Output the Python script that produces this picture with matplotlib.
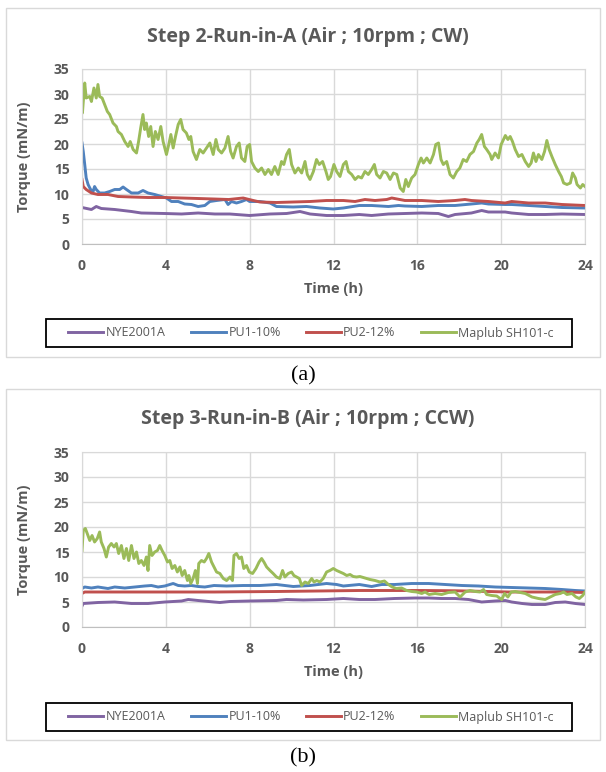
import numpy as np
import matplotlib
matplotlib.use("Agg")
import matplotlib.pyplot as plt
from matplotlib.patches import Rectangle
from matplotlib.lines import Line2D

plt.rcParams['font.family'] = ['Open Sans', 'DejaVu Sans']

# series names and colours
names = ['NYE2001A', 'PU1-10%', 'PU2-12%', 'Maplub SH101-c']
colors = ['#8064A2', '#4F81BD', '#C0504D', '#9BBB59']
titles = ['Step 2-Run-in-A (Air ; 10rpm ; CW)', 'Step 3-Run-in-B (Air ; 10rpm ; CCW)']
captions = ['(a)', '(b)']
xticks = [0, 4, 8, 12, 16, 20, 24]
yticks = [0, 5, 10, 15, 20, 25, 30, 35]

# (time h, torque mN/m) -- panel (a)
a_nye = [(0, 7.3), (0.45, 6.9), (0.68, 7.5), (0.92, 7.1), (1.56, 6.9), (2.36, 6.5), (2.83, 6.2),
         (3.95, 6.1), (4.75, 6.0), (5.54, 6.2), (6.34, 6.0), (7.05, 6.0), (8.0, 5.7), (8.97, 6.0),
         (9.76, 6.1), (10.4, 6.5), (10.88, 6.0), (11.67, 5.7), (12.47, 5.7), (13.23, 5.9),
         (13.82, 5.7), (14.62, 6.0), (15.41, 6.1), (16.21, 6.2), (17.0, 6.1), (17.48, 5.5),
         (17.8, 5.9), (18.58, 6.2), (19.07, 6.7), (19.39, 6.4), (20.19, 6.4), (20.5, 6.2),
         (21.31, 5.9), (22.1, 5.9), (22.9, 6.0), (24.0, 5.9)]
a_pu1 = [(0, 20.2), (0.06, 18.5), (0.13, 15.9), (0.2, 13.2), (0.29, 11.9), (0.41, 10.9), (0.53, 10.5),
         (0.6, 11.5), (0.68, 10.9), (0.84, 10.2), (1.08, 10.2), (1.32, 10.5), (1.56, 10.9), (1.8, 10.9),
         (1.96, 11.4), (2.12, 10.9), (2.36, 10.2), (2.68, 10.2), (2.91, 10.7), (3.15, 10.2), (3.47, 9.9),
         (3.79, 9.5), (4.03, 9.2), (4.27, 8.5), (4.59, 8.5), (4.9, 8.0), (5.22, 7.9), (5.54, 7.5),
         (5.86, 7.7), (6.1, 8.5), (6.42, 8.7), (6.82, 8.9), (6.97, 7.9), (7.13, 8.5), (7.37, 8.2),
         (7.61, 8.5), (7.85, 8.9), (8.0, 8.5), (8.49, 8.5), (8.97, 8.2), (9.28, 7.5), (10.08, 7.4),
         (10.71, 7.5), (11.35, 7.2), (11.99, 7.0), (12.47, 7.2), (13.23, 7.7), (13.82, 7.7),
         (14.62, 7.5), (15.1, 7.7), (15.41, 7.6), (16.21, 7.5), (17.0, 7.7), (17.8, 7.7), (18.58, 8.0),
         (19.07, 8.2), (19.39, 8.0), (20.19, 7.9), (20.5, 7.9), (21.31, 7.7), (22.1, 7.5), (22.9, 7.3),
         (24.0, 7.2)]
a_pu2 = [(0, 12.9), (0.06, 11.5), (0.2, 10.9), (0.45, 10.2), (0.76, 9.9), (1.24, 9.9), (1.72, 9.5),
         (2.36, 9.4), (3.15, 9.3), (3.95, 9.3), (4.75, 9.2), (5.54, 9.1), (6.3, 9.0), (7.0, 8.9),
         (7.69, 9.2), (8.17, 8.7), (8.49, 8.4), (9.28, 8.3), (10.08, 8.4), (10.88, 8.5), (11.67, 8.7),
         (12.47, 8.7), (13.03, 8.5), (13.5, 8.9), (13.98, 8.7), (14.54, 8.9), (14.78, 9.2),
         (15.41, 8.7), (16.21, 8.7), (17.0, 8.5), (17.8, 8.7), (18.27, 8.9), (18.58, 8.7),
         (19.39, 8.5), (20.19, 8.2), (20.5, 8.5), (21.31, 8.2), (22.1, 8.2), (22.9, 7.9), (24.0, 7.7)]
a_sh101 = [(0, 29.5), (0.02, 26.2), (0.13, 32.2), (0.2, 29.2), (0.37, 29.5), (0.45, 28.5), (0.57, 31.2),
           (0.68, 29.2), (0.76, 31.9), (0.84, 29.5), (0.96, 29.2), (1.08, 27.9), (1.21, 26.5),
           (1.32, 25.9), (1.48, 24.2), (1.64, 23.5), (1.72, 22.5), (1.88, 21.9), (2.04, 20.5),
           (2.2, 19.5), (2.3, 20.5), (2.44, 18.9), (2.6, 18.2), (2.7, 20.5), (2.8, 23.2), (2.91, 25.9),
           (2.99, 22.9), (3.07, 24.2), (3.18, 21.5), (3.28, 23.5), (3.39, 19.5), (3.5, 22.5),
           (3.63, 20.9), (3.76, 23.5), (3.87, 20.5), (4.03, 17.9), (4.14, 19.9), (4.24, 21.9),
           (4.35, 19.2), (4.46, 21.5), (4.59, 23.9), (4.71, 24.9), (4.82, 22.9), (4.98, 22.2),
           (5.1, 20.9), (5.19, 21.5), (5.3, 18.5), (5.46, 16.9), (5.62, 18.9), (5.78, 18.2),
           (5.94, 19.2), (6.1, 20.2), (6.26, 17.9), (6.39, 20.9), (6.5, 18.9), (6.66, 18.2),
           (6.82, 19.2), (6.97, 21.5), (7.09, 18.5), (7.21, 17.2), (7.37, 19.5), (7.5, 20.2),
           (7.61, 17.2), (7.77, 16.5), (7.88, 19.5), (8.0, 19.9), (8.09, 16.5), (8.25, 15.2),
           (8.41, 14.5), (8.57, 15.2), (8.73, 13.9), (8.89, 14.9), (9.04, 13.9), (9.2, 15.5),
           (9.36, 13.9), (9.52, 16.5), (9.63, 15.9), (9.76, 17.9), (9.89, 18.9), (10.0, 15.9),
           (10.16, 14.2), (10.32, 15.2), (10.48, 14.2), (10.64, 16.5), (10.75, 13.9), (10.88, 12.9),
           (11.04, 14.5), (11.19, 16.9), (11.32, 15.9), (11.48, 16.5), (11.64, 14.5), (11.75, 12.9),
           (11.86, 13.5), (12.02, 15.9), (12.15, 14.5), (12.31, 13.5), (12.47, 15.9), (12.6, 16.5),
           (12.71, 14.5), (12.87, 13.9), (13.03, 12.9), (13.18, 13.5), (13.34, 13.2), (13.5, 14.5),
           (13.66, 13.9), (13.82, 14.9), (13.95, 15.9), (14.06, 13.9), (14.22, 13.2), (14.38, 14.5),
           (14.54, 14.2), (14.7, 12.9), (14.86, 14.2), (15.02, 13.9), (15.18, 11.2), (15.33, 10.5),
           (15.45, 12.9), (15.57, 11.5), (15.73, 13.2), (15.89, 13.9), (16.05, 15.9), (16.18, 17.2),
           (16.29, 16.2), (16.45, 17.2), (16.61, 16.2), (16.77, 17.9), (16.88, 19.9), (17.01, 20.2),
           (17.13, 16.9), (17.24, 15.9), (17.4, 16.5), (17.56, 13.9), (17.72, 13.2), (17.88, 14.5),
           (18.03, 15.2), (18.19, 16.9), (18.35, 16.5), (18.51, 17.9), (18.68, 18.5), (18.84, 20.2),
           (18.95, 20.9), (19.07, 21.9), (19.2, 19.5), (19.31, 18.9), (19.47, 17.9), (19.55, 16.9),
           (19.71, 18.2), (19.87, 17.2), (20.0, 19.9), (20.11, 20.9), (20.2, 21.7), (20.32, 20.9),
           (20.43, 21.5), (20.54, 20.5), (20.67, 18.9), (20.83, 17.5), (20.99, 17.9), (21.15, 16.5),
           (21.31, 15.5), (21.43, 16.2), (21.54, 18.2), (21.66, 16.5), (21.78, 17.9), (21.94, 16.9),
           (22.07, 18.5), (22.18, 20.7), (22.29, 18.9), (22.42, 17.5), (22.58, 15.9), (22.74, 14.5),
           (22.87, 13.5), (22.98, 12.2), (23.14, 11.9), (23.3, 12.2), (23.41, 14.2), (23.54, 13.2),
           (23.62, 11.9), (23.78, 11.2), (23.89, 11.9), (24.0, 11.5)]

# panel (b)
b_nye = [(0, 4.2), (0.06, 4.7), (0.76, 4.9), (1.56, 5.0), (2.36, 4.7), (3.15, 4.7), (3.95, 5.0),
         (4.75, 5.2), (5.07, 5.5), (5.54, 5.3), (6.3, 5.0), (6.58, 4.9), (7.05, 5.1), (8.0, 5.2),
         (9.28, 5.3), (9.76, 5.5), (10.56, 5.4), (11.67, 5.5), (12.47, 5.7), (13.23, 5.5), (13.98, 5.5),
         (14.91, 5.7), (15.89, 5.8), (16.54, 5.8), (17.16, 5.7), (17.8, 5.7), (18.44, 5.5), (19.07, 5.0),
         (19.71, 5.2), (20.2, 5.3), (20.5, 5.0), (21.0, 4.7), (21.47, 4.5), (22.1, 4.5), (22.58, 4.9),
         (23.06, 5.0), (23.54, 4.7), (24.0, 4.5)]
b_pu1 = [(0, 7.7), (0.13, 8.0), (0.45, 7.8), (0.76, 8.0), (1.24, 7.7), (1.56, 8.0), (2.04, 7.8),
         (2.52, 8.0), (2.99, 8.2), (3.31, 8.3), (3.63, 8.0), (3.95, 8.2), (4.35, 8.7), (4.59, 8.3),
         (4.9, 8.2), (5.22, 8.3), (5.54, 8.1), (5.86, 8.0), (6.3, 8.3), (6.9, 8.2), (7.69, 8.3),
         (8.49, 8.3), (9.28, 8.5), (10.08, 8.1), (10.88, 8.3), (11.67, 8.7), (12.15, 8.5), (12.47, 8.2),
         (13.23, 8.5), (13.82, 8.1), (14.3, 8.5), (14.91, 8.5), (15.73, 8.7), (16.54, 8.7), (17.33, 8.5),
         (18.13, 8.3), (18.92, 8.2), (19.71, 8.0), (20.5, 7.9), (21.31, 7.8), (22.1, 7.7), (22.9, 7.5),
         (23.54, 7.3), (24.0, 7.2)]
b_pu2 = [(0, 6.7), (0.13, 7.0), (6.3, 7.0), (9.28, 7.1), (13.23, 7.3), (16.21, 7.3), (17.8, 7.25),
         (19.39, 7.1), (20.35, 7.0), (22.9, 7.0), (24.0, 6.9)]
b_sh101 = [(0, 15.3), (0.06, 19.3), (0.16, 19.7), (0.25, 18.7), (0.37, 17.3), (0.48, 18.3), (0.6, 17.0),
           (0.73, 17.7), (0.84, 19.0), (0.92, 17.0), (1.05, 15.7), (1.16, 14.0), (1.27, 16.0),
           (1.4, 16.7), (1.53, 16.0), (1.64, 16.7), (1.75, 14.7), (1.88, 16.3), (2.0, 13.7),
           (2.12, 15.7), (2.23, 13.3), (2.36, 16.3), (2.48, 13.7), (2.6, 15.0), (2.71, 12.7),
           (2.83, 13.3), (2.96, 12.3), (3.07, 14.0), (3.15, 11.3), (3.23, 16.3), (3.34, 14.3),
           (3.47, 15.0), (3.6, 15.3), (3.71, 16.3), (3.82, 15.3), (3.95, 14.3), (4.08, 13.0),
           (4.19, 13.3), (4.3, 11.7), (4.43, 12.3), (4.55, 11.0), (4.67, 12.0), (4.78, 10.3),
           (4.9, 11.3), (5.03, 9.3), (5.1, 10.3), (5.19, 8.7), (5.3, 9.7), (5.41, 11.3), (5.51, 8.7),
           (5.57, 12.7), (5.7, 13.3), (5.83, 13.0), (5.94, 13.7), (6.05, 14.7), (6.18, 13.0),
           (6.3, 12.0), (6.42, 11.0), (6.58, 10.7), (6.74, 9.7), (6.9, 9.3), (7.06, 10.0), (7.18, 9.3),
           (7.25, 14.3), (7.37, 14.7), (7.5, 13.7), (7.61, 14.0), (7.72, 11.7), (7.85, 12.3),
           (7.98, 11.0), (8.14, 10.7), (8.3, 11.7), (8.45, 13.0), (8.57, 13.7), (8.68, 13.0),
           (8.81, 12.0), (8.97, 11.3), (9.12, 10.7), (9.28, 10.0), (9.44, 9.7), (9.57, 11.3),
           (9.68, 10.0), (9.84, 10.7), (10.0, 11.0), (10.11, 10.3), (10.24, 10.0), (10.37, 9.7),
           (10.48, 8.3), (10.64, 9.0), (10.8, 8.7), (10.96, 9.7), (11.07, 9.0), (11.2, 9.3),
           (11.35, 9.0), (11.51, 9.7), (11.67, 11.0), (11.83, 11.3), (11.99, 11.7), (12.15, 11.3),
           (12.31, 11.0), (12.47, 10.7), (12.63, 10.3), (12.79, 10.5), (12.94, 10.1), (13.1, 10.0),
           (13.26, 10.1), (13.5, 9.8), (13.74, 9.5), (13.98, 9.3), (14.22, 9.0), (14.43, 9.2),
           (14.62, 8.5), (14.8, 8.0), (15.0, 7.7), (15.25, 7.8), (15.49, 7.3), (15.73, 7.1),
           (15.97, 7.0), (16.21, 6.7), (16.37, 7.0), (16.56, 6.5), (16.85, 6.7), (17.16, 6.5),
           (17.48, 6.9), (17.8, 7.0), (18.04, 6.0), (18.28, 7.0), (18.52, 7.3), (18.76, 7.1),
           (18.99, 7.0), (19.16, 7.5), (19.31, 6.5), (19.55, 6.3), (19.79, 6.2), (19.95, 5.7),
           (20.03, 5.5), (20.16, 6.7), (20.32, 6.0), (20.48, 7.0), (20.67, 7.1), (20.91, 6.9),
           (21.15, 6.7), (21.47, 6.0), (21.78, 5.7), (22.1, 5.5), (22.34, 6.0), (22.58, 6.5),
           (22.82, 6.7), (22.98, 7.0), (23.14, 6.5), (23.38, 6.7), (23.57, 6.0), (23.73, 5.7),
           (23.89, 6.3), (24.0, 7.0)]

panels = [[a_nye, a_pu1, a_pu2, a_sh101], [b_nye, b_pu1, b_pu2, b_sh101]]

W, H = 606, 772
fig = plt.figure(figsize=(W / 100, H / 100), dpi=100)


def fx(px):
    return px / W


def fy(py):
    return 1 - py / H


# pixel layout of each panel: outer box top/bottom, title y, plot top, legend top, caption y
layout = [dict(box=(8, 357), title=37, plot=69, leg=319, cap=376),
          dict(box=(389, 740), title=419, plot=452, leg=703, cap=758)]

grey = '#595959'
for k, (lay, series) in enumerate(zip(layout, panels)):
    top, bot = lay['box']
    fig.patches.append(Rectangle((fx(6), fy(bot)), fx(594), (bot - top) / H, fill=False,
                                 edgecolor='#D9D9D9', lw=1, transform=fig.transFigure))
    fig.text(fx(308), fy(lay['title']), titles[k], ha='center', va='center',
             fontsize=14, fontweight='bold', color=grey)

    ax = fig.add_axes([fx(82), fy(lay['plot'] + 175), fx(503), 175 / H])
    for data, c, n in zip(series, colors, names):
        t = [p[0] for p in data]
        v = [p[1] for p in data]
        ax.plot(t, v, color=c, lw=2.1, label=n, solid_joinstyle='round')
    ax.set_xlim(0, 24)
    ax.set_ylim(0, 35)
    ax.set_xticks(xticks)
    ax.set_yticks(yticks)
    ax.grid(True, color='#D9D9D9', lw=1)
    ax.set_axisbelow(True)
    for s in ax.spines.values():
        s.set_color('#D9D9D9')
    ax.spines['bottom'].set_color('#BFBFBF')
    ax.tick_params(length=0, labelsize=10, labelcolor=grey)
    ax.tick_params(axis='x', pad=11)
    ax.tick_params(axis='y', pad=9)
    for lab in ax.get_xticklabels() + ax.get_yticklabels():
        lab.set_fontweight('bold')
    ax.set_xlabel('Time (h)', fontsize=10.5, fontweight='bold', color=grey)
    ax.set_ylabel('Torque (mN/m)', fontsize=10.5, fontweight='bold', color=grey)
    ax.xaxis.set_label_coords(0.5, -0.215)
    ax.yaxis.set_label_coords(-0.101, 0.5)

    # legend with a black box around it
    lt = lay['leg']
    fig.patches.append(Rectangle((fx(46), fy(lt + 28)), fx(526), 28 / H, fill=False,
                                 edgecolor='black', lw=1.3, transform=fig.transFigure))
    handles = [Line2D([], [], color=c, lw=2.1) for c in colors]
    leg = fig.legend(handles, names, loc='center', ncol=4, frameon=False,
                     bbox_to_anchor=(fx(311), fy(lt + 14)), bbox_transform=fig.transFigure,
                     fontsize=9, handlelength=2.8, handletextpad=0.2, columnspacing=2.0)
    for txt in leg.get_texts():
        txt.set_color(grey)

    fig.text(0.5, fy(lay['cap']), captions[k], ha='center', va='center',
             fontsize=16, family='Liberation Serif', color='black')

fig.savefig('out.png', dpi=100)
